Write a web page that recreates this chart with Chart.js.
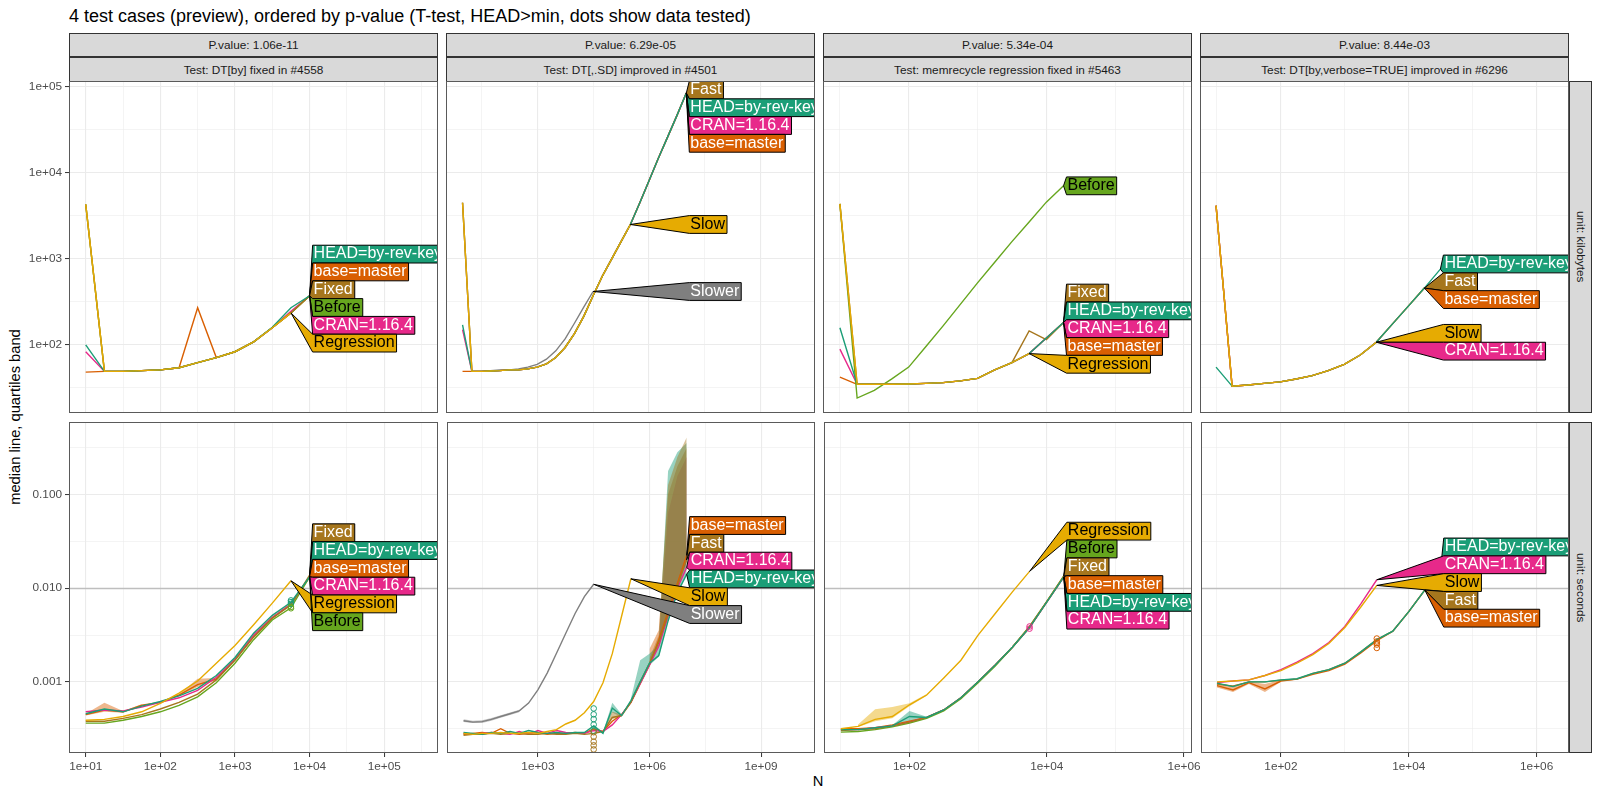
<!DOCTYPE html>
<html>
<head>
<meta charset="utf-8">
<title>4 test cases (preview)</title>
<script src="https://cdn.jsdelivr.net/npm/chart.js@4.4.1/dist/chart.umd.min.js"></script>
<style>
  html, body { margin: 0; padding: 0; background: #ffffff; }
  #fig { position: relative; width: 1600px; height: 800px; overflow: hidden;
         font-family: "Liberation Sans", Arial, Helvetica, sans-serif; }
  #fig canvas { position: absolute; }
  .txt { position: absolute; white-space: nowrap; color: #000; }
  .strip { position: absolute; box-sizing: border-box; background: #d9d9d9; border: 1px solid #333333;
           color: #1a1a1a; font-size: 11.8px; display: flex; align-items: center; justify-content: center;
           white-space: nowrap; }
  .vstrip { writing-mode: vertical-rl; }
</style>
</head>
<body>
<div id="fig">
  <div class="txt" style="left:69px; top:6px; font-size:18px;">4 test cases (preview), ordered by p-value (T-test, HEAD&gt;min, dots show data tested)</div>
  <div class="txt" style="left:818px; top:773px; font-size:14.7px; transform:translateX(-50%);">N</div>
  <div class="txt" style="left:15px; top:417px; font-size:14.7px; transform:translate(-50%,-50%) rotate(-90deg);">median line, quartiles band</div>
</div>
<script>
// N values tested (one every quarter decade)
const N = [10, 17.8, 31.6, 56.2, 100, 178, 316, 562, 1000, 1778, 3162, 5623, 1e4, 17783, 31623,
           56234, 1e5, 177828, 316228, 562341, 1e6, 1778279, 3162278, 5623413, 1e7];

// strip texts
const pValues = ['P.value: 1.06e-11', 'P.value: 6.29e-05', 'P.value: 5.34e-04', 'P.value: 8.44e-03'];
const testNames = ['Test: DT[by] fixed in #4558', 'Test: DT[,.SD] improved in #4501',
                   'Test: memrecycle regression fixed in #5463', 'Test: DT[by,verbose=TRUE] improved in #6296'];
const unitNames = ['unit: kilobytes', 'unit: seconds'];

// ---- panel 1: DT[by] ----
const p1kbHEAD = [100, 49, 49, 50, 51, 54, 62, 71, 83, 108, 160, 270, 372];
const p1kbCRAN = [83, 49, 49, 50, 51, 54, 62, 71, 83, 108, 158, 245, 372];
const p1kbBase = [48, 49, 49, 50, 51, 54, 270, 71, 83, 108, 158, 235, 372];
const p1kbFixed = [4300, 49, 49, 50, 51, 54, 62, 71, 83, 108, 158, 235, 372];
const p1kbBefore = [4300, 49, 49, 50, 51, 54, 62, 71, 83, 108, 158, 235, 372];
const p1kbRegression = [4300, 49, 49, 50, 51, 54, 62, 71, 83, 108, 158, 235];

const p1sHEAD = [0.000457, 0.000513, 0.000479, 0.000550, 0.000617, 0.000708, 0.000851, 0.00117, 0.00182, 0.00331, 0.00513, 0.00708, 0.0132];
const p1sCRAN = [0.000479, 0.000501, 0.000490, 0.000537, 0.000603, 0.000676, 0.000813, 0.00112, 0.00174, 0.00316, 0.00490, 0.00676, 0.0132];
const p1sBase = [0.000447, 0.000501, 0.000479, 0.000562, 0.000603, 0.000724, 0.000933, 0.00107, 0.00174, 0.00302, 0.00479, 0.00676, 0.0132];
const p1sBefore = [0.000363, 0.000363, 0.000389, 0.000427, 0.000479, 0.000562, 0.000692, 0.000977, 0.00158, 0.00282, 0.00457, 0.00617, 0.0132];
const p1sFixed = [0.000380, 0.000380, 0.000407, 0.000447, 0.000513, 0.000603, 0.000741, 0.00105, 0.00170, 0.00302, 0.00479, 0.00661, 0.0138];
const p1sRegression = [0.000389, 0.000398, 0.000427, 0.000479, 0.000589, 0.000759, 0.00102, 0.00158, 0.00245, 0.00407, 0.00692, 0.0120];
const p1sBandBaseA = { n: [10, 17.8, 31.6, 56.2], lo: [0.000437, 0.000479, 0.000468, 0.000550], hi: [0.000457, 0.000600, 0.000490, 0.000575] };
const p1sBandBaseB = { n: [178, 316, 562, 1000], lo: [0.000710, 0.000880, 0.00104, 0.00172], hi: [0.000740, 0.00108, 0.00110, 0.00177] };
const p1sDotsHEAD = [0.0068, 0.0071, 0.0074];
const p1sDotsBefore = [0.0061, 0.0063];

// ---- panel 2: DT[,.SD] ----
const p2kbFast = [4500, 49, 49, 49.5, 50, 51, 51, 52.5, 55, 60, 71, 93, 135, 214, 372, 631, 1000, 1585, 2512, 4470, 8130, 14800, 26300, 46800, 85100];
const p2kbHEAD = [170, 49, 49, 49.5, 50, 51, 51, 52.5, 55, 60, 71, 93, 135, 214, 372, 631, 1000, 1585, 2512, 4470, 8130, 14800, 26300, 46800, 85100];
const p2kbCRAN = [150, 49, 49, 49.5, 50, 51, 51, 52.5, 55, 60, 71, 93, 135, 214, 372, 631, 1000, 1585, 2512, 4470, 8130, 14800, 26300, 46800, 85100];
const p2kbBase = [49, 49, 49, 49.5, 50, 51, 51, 52.5, 55, 60, 71, 93, 135, 214, 372, 631, 1000, 1585, 2512, 4470, 8130, 14800, 26300, 46800, 85100];
const p2kbSlow = [4500, 49, 49, 49.5, 50, 51, 51, 52.5, 55, 60, 71, 93, 135, 214, 372, 631, 1000, 1585, 2512];
const p2kbSlower = [4500, 49, 49, 50, 51, 51, 52.5, 55, 59, 68, 85, 117, 178, 275, 417];

const p2sHEAD = [0.000288, 0.000282, 0.000275, 0.000288, 0.000282, 0.000295, 0.000282, 0.000302, 0.000288, 0.000282, 0.000288, 0.000282, 0.000288, 0.000288, 0.000339, 0.000282, 0.000525, 0.000437, 0.000631, 0.00100, 0.00158, 0.00191, 0.00447, 0.00891, 0.0141];
const p2sCRAN = [0.000282, 0.000275, 0.000282, 0.000288, 0.000282, 0.000275, 0.000295, 0.000275, 0.000302, 0.000282, 0.000302, 0.000288, 0.000282, 0.000282, 0.000302, 0.000295, 0.000347, 0.000447, 0.000603, 0.000955, 0.00151, 0.00240, 0.00501, 0.0100, 0.0166];
const p2sBase = [0.000275, 0.000282, 0.000288, 0.000282, 0.000316, 0.000282, 0.000275, 0.000282, 0.000288, 0.000275, 0.000282, 0.000282, 0.000288, 0.000282, 0.000316, 0.000295, 0.000380, 0.000447, 0.000603, 0.000955, 0.00151, 0.00282, 0.00562, 0.0112, 0.0224];
const p2sFast = [0.000269, 0.000275, 0.000275, 0.000282, 0.000275, 0.000282, 0.000282, 0.000275, 0.000275, 0.000282, 0.000275, 0.000275, 0.000282, 0.000275, 0.000282, 0.000295, 0.000417, 0.000437, 0.000603, 0.00100, 0.00158, 0.00263, 0.00525, 0.0105, 0.0200];
const p2sSlow = [0.000282, 0.000275, 0.000282, 0.000282, 0.000288, 0.000282, 0.000282, 0.000288, 0.000282, 0.000295, 0.000309, 0.000355, 0.000389, 0.000468, 0.000617, 0.000977, 0.00200, 0.00501, 0.0126];
const p2sSlower = [0.000385, 0.000372, 0.000376, 0.000398, 0.000427, 0.000457, 0.000490, 0.000593, 0.000822, 0.00124, 0.00202, 0.00330, 0.00537, 0.00813, 0.0110];
const p2sBandSlower = { n: [10, 17.8, 31.6, 56.2, 100, 178, 316], lo: [0.000372, 0.000363, 0.000363, 0.000385, 0.000413, 0.000442, 0.000475], hi: [0.000398, 0.000385, 0.000389, 0.000412, 0.000441, 0.000472, 0.000505] };
const p2sBandHEADA = { n: [31623, 56234, 1e5, 177828], lo: [0.00033, 0.00028, 0.00047, 0.00042], hi: [0.00035, 0.00029, 0.00060, 0.00045] };
const p2sBandFastA = { n: [56234, 1e5, 177828], lo: [0.00029, 0.00040, 0.00043], hi: [0.00030, 0.00048, 0.00045] };
const p2sBandHEAD = { n: [316228, 562341, 1e6, 1778279, 3162278, 5623413, 1e7], lo: [0.000603, 0.00095, 0.00150, 0.00185, 0.00447, 0.00891, 0.0141], hi: [0.00066, 0.00170, 0.00200, 0.00251, 0.178, 0.282, 0.355] };
const p2sBandFast = { n: [1e6, 1778279, 3162278, 5623413, 1e7], lo: [0.00158, 0.00263, 0.00525, 0.0105, 0.0200], hi: [0.00178, 0.00316, 0.126, 0.251, 0.407] };
const p2sBandBase = { n: [1e6, 1778279, 3162278, 5623413, 1e7], lo: [0.00151, 0.00282, 0.00562, 0.0112, 0.0224], hi: [0.00224, 0.00355, 0.100, 0.200, 0.316] };
const p2sBandCRAN = { n: [1e6, 1778279, 3162278, 5623413, 1e7], lo: [0.00151, 0.00240, 0.00501, 0.0100, 0.0166], hi: [0.00166, 0.00282, 0.0631, 0.158, 0.251] };
const p2sDotsHEAD = [0.00052, 0.00045, 0.00040, 0.00035, 0.00030];
const p2sDotsFast = [0.00029, 0.00026, 0.00023, 0.00021, 0.00019];

// ---- panel 3: memrecycle ----
const p3kbHEAD = [158, 34.7, 34.7, 34.7, 35, 35.5, 36.3, 38, 40.7, 51, 62, 79, 120, 182];
const p3kbCRAN = [89, 34.7, 34.7, 34.7, 35, 35.5, 36.3, 38, 40.7, 51, 62, 79, 120, 182];
const p3kbBase = [42, 34.7, 34.7, 34.7, 35, 35.5, 36.3, 38, 40.7, 51, 62, 79, 120, 182];
const p3kbFixed = [4370, 34.7, 34.7, 34.7, 35, 35.5, 36.3, 38, 40.7, 51, 62, 145, 115, 182];
const p3kbRegression = [4370, 34.7, 34.7, 34.7, 35, 35.5, 36.3, 38, 40.7, 51, 62, 79];
const p3kbBefore = [4370, 24, 29.5, 39.8, 55, 95.5, 166, 295, 525, 912, 1585, 2690, 4570, 7080];

const p3sHEAD = [0.000309, 0.000309, 0.000324, 0.000339, 0.000427, 0.000417, 0.000501, 0.000676, 0.00100, 0.00151, 0.00234, 0.00380, 0.00708, 0.0132];
const p3sCRAN = [0.000309, 0.000309, 0.000324, 0.000339, 0.000372, 0.000417, 0.000501, 0.000676, 0.00100, 0.00151, 0.00234, 0.00380, 0.00708, 0.0132];
const p3sBase = [0.000316, 0.000316, 0.000324, 0.000347, 0.000380, 0.000417, 0.000501, 0.000676, 0.00100, 0.00151, 0.00234, 0.00380, 0.00708, 0.0132];
const p3sFixed = [0.000302, 0.000309, 0.000316, 0.000339, 0.000372, 0.000417, 0.000501, 0.000676, 0.00100, 0.00151, 0.00234, 0.00390, 0.00720, 0.0135];
const p3sBefore = [0.000291, 0.000295, 0.000309, 0.000331, 0.000363, 0.000407, 0.000490, 0.000661, 0.000980, 0.00148, 0.00234, 0.00390, 0.00720, 0.0135];
const p3sRegression = [0.000316, 0.000335, 0.000398, 0.000427, 0.000569, 0.000724, 0.00110, 0.00170, 0.00316, 0.00537, 0.00912, 0.0151];
const p3sBandRegression = { n: [17.8, 31.6, 56.2, 100, 178], lo: [0.00033, 0.00038, 0.00041, 0.00055, 0.00071], hi: [0.00035, 0.00051, 0.00054, 0.00059, 0.00074] };
const p3sBandHEAD = { n: [56.2, 100, 178], lo: [0.000339, 0.000372, 0.000417], hi: [0.000345, 0.00049, 0.000425] };
const p3sDotsCRAN = [0.0037, 0.0039];

// ---- panel 4: DT[by,verbose=TRUE] ----
const p4kbSlow = [4170, 33, 34, 35.5, 37, 40, 43.7, 50, 59, 76, 107];
const p4kbCRAN = [4170, 33, 34, 35.5, 37, 40, 43.7, 50, 59, 76, 107];
const p4kbFast = [4170, 33, 34, 35.5, 37, 40, 43.7, 50, 59, 76, 107, 174, 282, 457];
const p4kbBase = [4170, 33, 34, 35.5, 37, 40, 43.7, 50, 59, 76, 107, 174, 282, 457];
const p4kbHEAD = [55, 33, 34, 35.5, 37, 40, 43.7, 50, 59, 76, 107, 174, 282, 457, 759];

const p4sSlow = [0.00100, 0.00102, 0.00105, 0.00117, 0.00132, 0.00158, 0.00195, 0.00257, 0.00380, 0.00630, 0.0107];
const p4sCRAN = [0.00098, 0.00102, 0.00105, 0.00117, 0.00135, 0.00162, 0.00200, 0.00263, 0.00390, 0.00680, 0.0123];
const p4sHEAD = [0.00097, 0.00089, 0.00100, 0.00100, 0.00105, 0.00108, 0.00123, 0.00135, 0.00158, 0.00209, 0.00282, 0.00347, 0.00562, 0.00955, 0.0166];
const p4sFast = [0.00095, 0.00090, 0.00100, 0.00100, 0.00104, 0.00107, 0.00123, 0.00135, 0.00158, 0.00209, 0.00282, 0.00347, 0.00562, 0.00955];
const p4sBase = [0.00091, 0.00082, 0.00098, 0.00084, 0.00102, 0.00107, 0.00120, 0.00132, 0.00155, 0.00204, 0.00275, 0.00347, 0.00562, 0.00955];
const p4sBandBase = { n: [10, 17.8, 31.6, 56.2, 100], lo: [0.00087, 0.00078, 0.00095, 0.00078, 0.00100], hi: [0.00095, 0.00092, 0.00101, 0.00095, 0.00105] };
const p4sDotsBase = [0.0029, 0.0027, 0.0026, 0.0025, 0.0023];

// ---- axes: ticks and limits ----
const xMajor = [[1e1, 1e2, 1e3, 1e4, 1e5], [1e3, 1e6, 1e9], [1e2, 1e4, 1e6], [1e2, 1e4, 1e6]];
const xLabels = [['1e+01', '1e+02', '1e+03', '1e+04', '1e+05'], ['1e+03', '1e+06', '1e+09'],
                 ['1e+02', '1e+04', '1e+06'], ['1e+02', '1e+04', '1e+06']];
const xMinor = [[31.62, 316.2, 3162, 31623, 316228], [31.62, 31623, 3.162e7], [10, 1e3, 1e5], [10, 1e3, 1e5]];
const xMin = [5.97, 3.6, 5.68, 5.62];
const xMax = [5.25e5, 2.82e10, 1.31e6, 3.21e6];
const yMajor = [[1e2, 1e3, 1e4, 1e5], [0.001, 0.01, 0.1]];
const yLabels = [['1e+02', '1e+03', '1e+04', '1e+05'], ['0.001', '0.010', '0.100']];
const yMinor = [[31.62, 316.2, 3162, 31623], [0.000316, 0.00316, 0.0316, 0.316]];
const yMin = [16.07, 0.000174];
const yMax = [117500, 0.594];

const INFO = {
  HEAD:       { label: 'HEAD=by-rev-key', color: '#1B9E77', text: '#FFFFFF' },
  base:       { label: 'base=master',     color: '#D95F02', text: '#FFFFFF' },
  CRAN:       { label: 'CRAN=1.16.4',     color: '#E7298A', text: '#FFFFFF' },
  Before:     { label: 'Before',          color: '#66A61E', text: '#000000' },
  Regression: { label: 'Regression',      color: '#E6AB02', text: '#000000' },
  Fixed:      { label: 'Fixed',           color: '#A6761D', text: '#FFFFFF' },
  Fast:       { label: 'Fast',            color: '#A6761D', text: '#FFFFFF' },
  Slow:       { label: 'Slow',            color: '#E6AB02', text: '#000000' },
  Slower:     { label: 'Slower',          color: '#7F7F7F', text: '#FFFFFF' }
};
const DRAW_ORDER = ['Slower', 'base', 'CRAN', 'Before', 'Fixed', 'Fast', 'HEAD', 'Slow', 'Regression'];

const panels = [
  { col: 0, row: 0, lines: { HEAD: p1kbHEAD, base: p1kbBase, CRAN: p1kbCRAN, Before: p1kbBefore, Fixed: p1kbFixed, Regression: p1kbRegression },
    order: ['HEAD', 'base', 'Fixed', 'Before', 'CRAN', 'Regression'], bands: [], dots: [] },
  { col: 1, row: 0, lines: { Fast: p2kbFast, HEAD: p2kbHEAD, CRAN: p2kbCRAN, base: p2kbBase, Slow: p2kbSlow, Slower: p2kbSlower },
    order: ['Fast', 'HEAD', 'CRAN', 'base', 'Slow', 'Slower'], bands: [], dots: [] },
  { col: 2, row: 0, lines: { HEAD: p3kbHEAD, CRAN: p3kbCRAN, base: p3kbBase, Fixed: p3kbFixed, Regression: p3kbRegression, Before: p3kbBefore },
    order: ['Before', 'Fixed', 'HEAD', 'CRAN', 'base', 'Regression'], bands: [], dots: [] },
  { col: 3, row: 0, lines: { Slow: p4kbSlow, CRAN: p4kbCRAN, Fast: p4kbFast, base: p4kbBase, HEAD: p4kbHEAD },
    order: ['HEAD', 'Fast', 'base', 'Slow', 'CRAN'], bands: [], dots: [] },
  { col: 0, row: 1, lines: { HEAD: p1sHEAD, CRAN: p1sCRAN, base: p1sBase, Before: p1sBefore, Fixed: p1sFixed, Regression: p1sRegression },
    order: ['Fixed', 'HEAD', 'base', 'CRAN', 'Regression', 'Before'],
    bands: [['base', p1sBandBaseA], ['base', p1sBandBaseB]],
    dots: [['HEAD', 5623, p1sDotsHEAD], ['Before', 5623, p1sDotsBefore]] },
  { col: 1, row: 1, lines: { HEAD: p2sHEAD, CRAN: p2sCRAN, base: p2sBase, Fast: p2sFast, Slow: p2sSlow, Slower: p2sSlower },
    order: ['base', 'Fast', 'CRAN', 'HEAD', 'Slow', 'Slower'],
    bands: [['Slower', p2sBandSlower], ['HEAD', p2sBandHEADA], ['Fast', p2sBandFastA], ['CRAN', p2sBandCRAN],
            ['base', p2sBandBase], ['HEAD', p2sBandHEAD], ['Fast', p2sBandFast]],
    dots: [['HEAD', 31623, p2sDotsHEAD], ['Fast', 31623, p2sDotsFast]] },
  { col: 2, row: 1, lines: { HEAD: p3sHEAD, CRAN: p3sCRAN, base: p3sBase, Fixed: p3sFixed, Before: p3sBefore, Regression: p3sRegression },
    order: ['Regression', 'Before', 'Fixed', 'base', 'HEAD', 'CRAN'],
    bands: [['Regression', p3sBandRegression], ['HEAD', p3sBandHEAD]],
    dots: [['CRAN', 5623, p3sDotsCRAN]] },
  { col: 3, row: 1, lines: { Slow: p4sSlow, CRAN: p4sCRAN, HEAD: p4sHEAD, Fast: p4sFast, base: p4sBase },
    order: ['HEAD', 'CRAN', 'Slow', 'Fast', 'base'],
    bands: [['base', p4sBandBase]],
    dots: [['base', 3162, p4sDotsBase]] }
];

// ---- layout ----
const COL_LEFT = [69, 446, 823, 1200];
const PANEL_W = 369;
const ROW_TOP = [81, 422];
const PANEL_H = [332, 331];
const FONT = '"Liberation Sans", Arial, Helvetica, sans-serif';
const BOX_H = 17.8;

function withAlpha(hex, a) {
  const n = parseInt(hex.slice(1), 16);
  return `rgba(${(n >> 16) & 255}, ${(n >> 8) & 255}, ${n & 255}, ${a})`;
}

// stacked label boxes pointing at the last point of each line
function drawLabels(chart, order) {
  const ctx = chart.ctx, a = chart.chartArea;
  const items = order.map(s => {
    const idx = chart.data.datasets.findIndex(d => d.seriesName === s);
    const pts = chart.getDatasetMeta(idx).data;
    const last = pts[pts.length - 1];
    return { s, ax: last.x, ay: last.y };
  });
  const bx = Math.max(...items.map(d => d.ax)) + 3;
  // keep the order, remove overlaps (pool adjacent violators)
  const blocks = [];
  items.forEach((d, i) => {
    blocks.push({ sum: d.ay - i * BOX_H, n: 1 });
    while (blocks.length > 1) {
      const b = blocks[blocks.length - 1], p = blocks[blocks.length - 2];
      if (p.sum / p.n <= b.sum / b.n) break;
      p.sum += b.sum; p.n += b.n; blocks.pop();
    }
  });
  let k = 0;
  blocks.forEach(b => { for (let j = 0; j < b.n; j++, k++) items[k].cy = b.sum / b.n + k * BOX_H; });
  items.forEach((d, i) => { d.cy = Math.max(d.cy, a.top + BOX_H / 2 + i * BOX_H); });
  for (let i = items.length - 1; i >= 0; i--) {
    items[i].cy = Math.min(items[i].cy, a.bottom - BOX_H / 2 - (items.length - 1 - i) * BOX_H);
  }

  ctx.save();
  ctx.beginPath();
  ctx.rect(a.left, a.top, a.width, a.height);
  ctx.clip();
  ctx.font = `16px ${FONT}`;
  ctx.lineWidth = 1;
  ctx.lineJoin = 'miter';
  items.forEach(d => {
    const info = INFO[d.s];
    const w = ctx.measureText(info.label).width + 3;
    const top = d.cy - BOX_H / 2, bot = d.cy + BOX_H / 2;
    ctx.beginPath();
    ctx.moveTo(d.ax, d.ay);
    ctx.lineTo(bx, top);
    ctx.lineTo(bx + w, top);
    ctx.lineTo(bx + w, bot);
    ctx.lineTo(bx, bot);
    ctx.closePath();
    ctx.fillStyle = info.color;
    ctx.fill();
    ctx.strokeStyle = '#000000';
    ctx.stroke();
    ctx.fillStyle = info.text;
    ctx.textBaseline = 'alphabetic';
    ctx.fillText(info.label, bx + 1, d.cy + 4.3);
  });
  ctx.restore();
}

const panelExtras = {
  id: 'panelExtras',
  beforeDatasetsDraw(chart, args, opts) {
    if (opts.hline == null) return;
    const a = chart.chartArea, ctx = chart.ctx;
    const y = Math.round(chart.scales.y.getPixelForValue(opts.hline)) + 0.5;
    ctx.save();
    ctx.strokeStyle = '#BEBEBE';
    ctx.lineWidth = 1.4;
    ctx.beginPath();
    ctx.moveTo(a.left, y);
    ctx.lineTo(a.right, y);
    ctx.stroke();
    ctx.restore();
  },
  afterDatasetsDraw(chart, args, opts) {
    drawLabels(chart, opts.order);
  },
  afterDraw(chart) {
    const a = chart.chartArea, ctx = chart.ctx;
    ctx.save();
    ctx.strokeStyle = '#5a5a5a';
    ctx.lineWidth = 1;
    ctx.strokeRect(a.left + 0.5, a.top + 0.5, a.width - 1, a.height - 1);
    ctx.restore();
  }
};

function logAxis(min, max, majors, labels, minors, showLabels, isX, size) {
  const isMajor = c => c.tick && majors.includes(c.tick.value);
  return {
    type: 'logarithmic',
    position: isX ? 'bottom' : 'left',
    min, max,
    bounds: 'data',
    afterBuildTicks(scale) {
      scale.ticks = majors.concat(minors).filter(v => v >= min && v <= max)
        .sort((p, q) => p - q).map(v => ({ value: v }));
    },
    afterFit(scale) { if (isX) scale.height = size; else scale.width = size; },
    border: { display: false },
    grid: {
      color: '#EBEBEB',
      lineWidth: c => (isMajor(c) ? 1.1 : 0.55),
      drawTicks: showLabels,
      tickLength: 4,
      tickWidth: 1,
      tickColor: c => (isMajor(c) ? '#333333' : 'rgba(0,0,0,0)')
    },
    ticks: {
      display: showLabels,
      autoSkip: false,
      maxRotation: 0,
      minRotation: 0,
      padding: 3,
      color: '#4D4D4D',
      font: { family: FONT, size: 11.8 },
      callback: v => { const i = majors.indexOf(v); return i >= 0 ? labels[i] : ''; }
    }
  };
}

function buildDatasets(p) {
  const ds = [];
  p.bands.forEach(([s, b]) => {
    ds.push({ data: b.n.map((n, i) => ({ x: n, y: b.lo[i] })), borderWidth: 0, pointRadius: 0, fill: false });
    ds.push({ data: b.n.map((n, i) => ({ x: n, y: b.hi[i] })), borderWidth: 0, pointRadius: 0, fill: '-1',
              backgroundColor: withAlpha(INFO[s].color, 0.45) });
  });
  DRAW_ORDER.forEach(s => {
    if (!p.lines[s]) return;
    ds.push({
      seriesName: s,
      data: p.lines[s].map((v, i) => ({ x: N[i], y: v })),
      borderColor: INFO[s].color, borderWidth: 1.4, pointRadius: 0, fill: false, tension: 0
    });
  });
  p.dots.forEach(([s, n, vals]) => {
    ds.push({
      data: vals.map(v => ({ x: n, y: v })), showLine: false, pointRadius: 2.8, pointBorderWidth: 1,
      pointBorderColor: INFO[s].color, pointBackgroundColor: 'rgba(0,0,0,0)', borderColor: INFO[s].color
    });
  });
  ds.forEach((d, i) => { d.order = 1000 - i; });
  return ds;
}

const fig = document.getElementById('fig');

// strips on top and on the right
for (let c = 0; c < 4; c++) {
  const s1 = document.createElement('div');
  s1.className = 'strip';
  s1.style.cssText = `left:${COL_LEFT[c]}px; top:33px; width:${PANEL_W}px; height:24px;`;
  s1.textContent = pValues[c];
  fig.appendChild(s1);
  const s2 = document.createElement('div');
  s2.className = 'strip';
  s2.style.cssText = `left:${COL_LEFT[c]}px; top:57px; width:${PANEL_W}px; height:25px;`;
  s2.textContent = testNames[c];
  fig.appendChild(s2);
}
for (let r = 0; r < 2; r++) {
  const s = document.createElement('div');
  s.className = 'strip vstrip';
  s.style.cssText = `left:1569px; top:${ROW_TOP[r]}px; width:23px; height:${PANEL_H[r]}px;`;
  s.textContent = unitNames[r];
  fig.appendChild(s);
}

panels.forEach(p => {
  const padL = p.col === 0 ? 70 : 4;
  const padR = 20, padT = 14;
  const padB = p.row === 1 ? 32 : 14;
  const w = padL + PANEL_W + padR, h = padT + PANEL_H[p.row] + padB;
  const cv = document.createElement('canvas');
  cv.width = w; cv.height = h;
  cv.style.left = (COL_LEFT[p.col] - padL) + 'px';
  cv.style.top = (ROW_TOP[p.row] - padT) + 'px';
  cv.style.width = w + 'px'; cv.style.height = h + 'px';
  fig.appendChild(cv);

  new Chart(cv.getContext('2d'), {
    type: 'line',
    data: { datasets: buildDatasets(p) },
    options: {
      responsive: false,
      animation: false,
      devicePixelRatio: 1,
      events: [],
      layout: { padding: { left: 0, top: padT, right: padR, bottom: 0 } },
      scales: {
        x: logAxis(xMin[p.col], xMax[p.col], xMajor[p.col], xLabels[p.col], xMinor[p.col], p.row === 1, true, padB),
        y: logAxis(yMin[p.row], yMax[p.row], yMajor[p.row], yLabels[p.row], yMinor[p.row], p.col === 0, false, padL)
      },
      plugins: {
        legend: { display: false },
        tooltip: { enabled: false },
        panelExtras: { order: p.order, hline: p.row === 1 ? 0.01 : null }
      }
    },
    plugins: [panelExtras]
  });
});
</script>
</body>
</html>
